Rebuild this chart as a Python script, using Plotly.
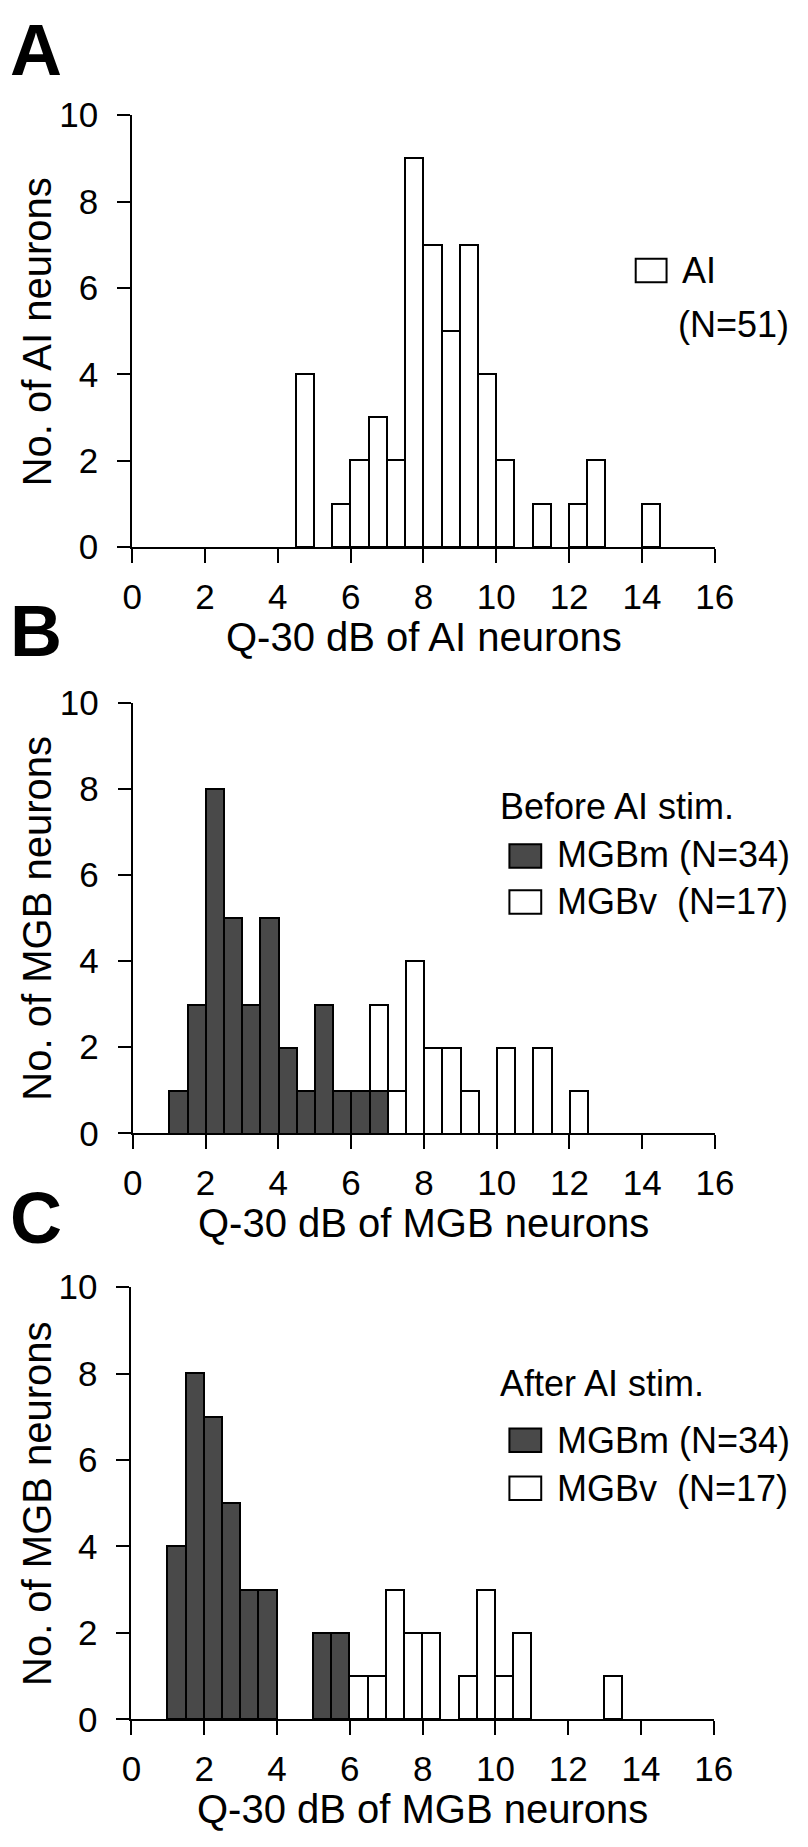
import plotly.graph_objects as go

# ---------------- data ----------------
BIN_W = 0.5

ai_left = [4.5, 5.5, 6.0, 6.5, 7.0, 7.5, 8.0, 8.5, 9.0, 9.5, 10.0, 11.0, 12.0, 12.5, 14.0]
ai_counts = [4, 1, 2, 3, 2, 9, 7, 5, 7, 4, 2, 1, 1, 2, 1]

before_m_left = [1.0, 1.5, 2.0, 2.5, 3.0, 3.5, 4.0, 4.5, 5.0, 5.5, 6.0, 6.5]
before_m_counts = [1, 3, 8, 5, 3, 5, 2, 1, 3, 1, 1, 1]
before_v_left = [6.5, 7.0, 7.5, 8.0, 8.5, 9.0, 10.0, 11.0, 12.0]
before_v_counts = [2, 1, 4, 2, 2, 1, 2, 2, 1]

after_m_left = [1.0, 1.5, 2.0, 2.5, 3.0, 3.5, 5.0, 5.5]
after_m_counts = [4, 8, 7, 5, 3, 3, 2, 2]
after_v_left = [6.0, 6.5, 7.0, 7.5, 8.0, 9.0, 9.5, 10.0, 10.5, 13.0]
after_v_counts = [1, 1, 3, 2, 2, 1, 3, 1, 2, 1]

x_ticks = [0, 2, 4, 6, 8, 10, 12, 14, 16]
y_ticks = [0, 2, 4, 6, 8, 10]

# ---------------- styling ----------------
W, H = 808, 1847
FONT = "Liberation Sans, Arial, Helvetica, sans-serif"
DARK = "#494949"


def px(x):
    return x / W


def py(y):
    return 1 - y / H


def centers(lefts):
    return [l + BIN_W / 2 for l in lefts]


fig = go.Figure()


def add_bars(lefts, counts, color, xa, ya):
    fig.add_trace(go.Bar(
        x=centers(lefts), y=counts, width=[BIN_W] * len(lefts),
        marker=dict(color=color, line=dict(color="black", width=2)),
        xaxis=xa, yaxis=ya, showlegend=False, hoverinfo="x+y",
    ))


add_bars(ai_left, ai_counts, "white", "x", "y")
add_bars(before_m_left, before_m_counts, DARK, "x2", "y2")
add_bars(before_v_left, before_v_counts, "white", "x2", "y2")
add_bars(after_m_left, after_m_counts, DARK, "x3", "y3")
add_bars(after_v_left, after_v_counts, "white", "x3", "y3")

# panel plot areas (pixel coordinates)
panels = [
    dict(x0=126.7, x1=731.0, ytop=97.3, ybot=538.3),
    dict(x0=127.3, x1=731.3, ytop=697.3, ybot=1137.3),
    dict(x0=126.0, x1=730.0, ytop=1294.4, ybot=1736.0),
]

axis_common = dict(
    showline=True, linewidth=2, linecolor="black", mirror=False,
    ticks="outside", tickwidth=2, tickcolor="black",
    showgrid=False, zeroline=False, fixedrange=True,
    tickfont=dict(family=FONT, size=35, color="black"),
)

layout_axes = {}
for i, p in enumerate(panels):
    s = "" if i == 0 else str(i + 1)
    layout_axes["xaxis" + s] = dict(
        axis_common, domain=[px(p["x0"]), px(p["x1"])], range=[0, 16],
        anchor="y" + s, tickvals=x_ticks, ticklen=14, ticklabelstandoff=4,
    )
    layout_axes["yaxis" + s] = dict(
        axis_common, domain=[py(p["ybot"]), py(p["ytop"])], range=[0, 10],
        anchor="x" + s, tickvals=y_ticks, ticklen=13, ticklabelstandoff=12,
    )

annotations = []


def text(x, y, s, size=36, xanchor="left", bold=False, angle=0):
    annotations.append(dict(
        x=px(x), y=py(y), xref="paper", yref="paper", text=("<b>%s</b>" % s) if bold else s,
        showarrow=False, xanchor=xanchor, yanchor="middle", textangle=angle,
        font=dict(family=FONT, size=size, color="black"),
    ))


# panel letters
text(-2, 31, "A", size=72, bold=True)
text(-2, 624, "B", size=72, bold=True)
text(-2, 1224, "C", size=72, bold=True)

# axis titles
text(429, 630, "Q-30 dB of AI neurons", size=40, xanchor="center")
text(429, 1229, "Q-30 dB of MGB neurons", size=40, xanchor="center")
text(428, 1828, "Q-30 dB of MGB neurons", size=40, xanchor="center")
text(28, 318, "No. of AI neurons", size=40, xanchor="center", angle=-90)
text(28, 917, "No. of MGB neurons", size=40, xanchor="center", angle=-90)
text(28, 1515, "No. of MGB neurons", size=40, xanchor="center", angle=-90)

# legends
shapes = []


def square(x0, y0, x1, y1, color):
    shapes.append(dict(
        type="rect", xref="paper", yref="paper",
        x0=px(x0), x1=px(x1), y0=py(y1), y1=py(y0),
        fillcolor=color, line=dict(color="black", width=2),
    ))


square(649, 244, 681, 268, "white")
text(695, 256, "AI")
text(691, 311, "(N=51)")

text(506, 803, "Before AI stim.")
square(518, 842, 551, 866, DARK)
text(565, 853, "MGBm (N=34)")
square(518, 889, 551, 913, "white")
text(565, 901, "MGBv\u00a0 (N=17)")

text(506, 1393, "After AI stim.")
square(518, 1439, 551, 1463, DARK)
text(565, 1451, "MGBm (N=34)")
square(518, 1488, 551, 1512, "white")
text(565, 1500, "MGBv\u00a0 (N=17)")

fig.update_layout(
    width=W, height=H, margin=dict(l=0, r=0, t=0, b=0),
    paper_bgcolor="white", plot_bgcolor="white",
    barmode="stack", bargap=0,
    showlegend=False,
    annotations=annotations, shapes=shapes,
    font=dict(family=FONT, color="black"),
    **layout_axes,
)

fig.write_html(
    "out.html",
    config={"displayModeBar": False},
    post_script="document.body.style.margin='0';",
)
